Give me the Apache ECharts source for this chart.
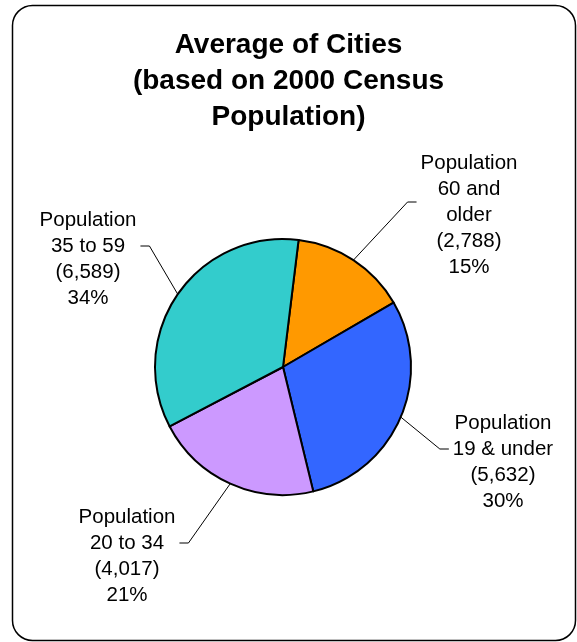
<!DOCTYPE html>
<html><head><meta charset="utf-8">
<script src="https://cdn.jsdelivr.net/npm/echarts@6/dist/echarts.min.js"></script>
<style>html,body{margin:0;padding:0;background:#fff}#c{width:577px;height:642px}</style>
</head><body><div id="c"></div>
<script>
const categories = ['Population\n60 and\nolder', 'Population\n19 & under', 'Population\n20 to 34', 'Population\n35 to 59'];
const values = [2788, 5632, 4017, 6589];
const percentLabels = ['15%', '30%', '21%', '34%'];
const colors = ['#FF9900', '#3366FF', '#CC99FF', '#33CCCC'];
const labelCenters = [[469, 215], [503, 462], [127, 556], [88, 259]];
const pieCenter = [283, 367];

const chart = echarts.init(document.getElementById('c'), null, {renderer: 'canvas'});
const FONT = '"Liberation Sans", Arial, Helvetica, sans-serif';
chart.setOption({
  animation: false,
  backgroundColor: '#fff',
  title: {
    text: 'Average of Cities\n(based on 2000 Census\nPopulation)',
    left: 'center',
    top: 22,
    padding: [5, 0, 5, 16],
    textStyle: {fontFamily: FONT, fontSize: 28, fontWeight: 'bold', lineHeight: 36, color: '#000'}
  },
  graphic: [{
    type: 'rect',
    shape: {x: 12.5, y: 5.5, width: 563, height: 635, r: 20},
    style: {fill: 'none', stroke: '#000', lineWidth: 1.5},
    silent: true,
    z: 100
  }],
  series: [{
    type: 'pie',
    center: pieCenter,
    radius: 128,
    startAngle: 83,
    clockwise: true,
    avoidLabelOverlap: false,
    emphasis: {disabled: true},
    itemStyle: {borderColor: '#000', borderWidth: 2},
    label: {
      show: true,
      position: 'outside',
      fontFamily: FONT,
      fontSize: 20.5,
      lineHeight: 26,
      color: '#000',
      align: 'center',
      formatter: function (p) {
        return p.name + '\n(' + p.value.toLocaleString('en-US') + ')\n' + percentLabels[p.dataIndex];
      }
    },
    labelLine: {show: true, length: 20, length2: 10, lineStyle: {color: '#000', width: 1}},
    labelLayout: function (p) {
      const i = p.dataIndex;
      const c = labelCenters[i];
      const w = p.labelRect.width;
      const onRight = c[0] > pieCenter[0];
      const ay = c[1] - 13;
      const endX = onRight ? c[0] - w / 2 - 4 : c[0] + w / 2 + 4;
      const kneeX = onRight ? endX - 9 : endX + 9;
      const start = p.labelLinePoints ? p.labelLinePoints[0] : [c[0], c[1]];
      return {
        x: c[0], y: c[1], align: 'center', verticalAlign: 'middle',
        labelLinePoints: [start, [kneeX, ay], [endX, ay]]
      };
    },
    data: categories.map(function (n, i) {
      return {name: n, value: values[i], itemStyle: {color: colors[i]}};
    })
  }]
});
</script>
</body></html>
